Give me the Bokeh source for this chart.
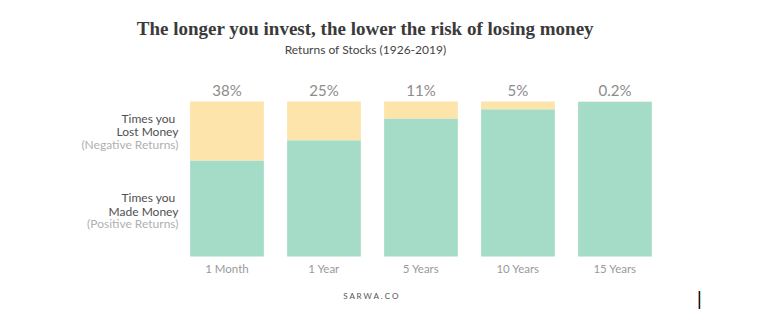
from bokeh.plotting import figure
from bokeh.models import ColumnDataSource, Label, Range1d
from bokeh.core.properties import value
from bokeh.embed import file_html
from bokeh.resources import INLINE

categories = ["1 Month", "1 Year", "5 Years", "10 Years", "15 Years"]
positive = [62, 75, 89, 95, 99.8]
negative = [38, 25, 11, 5, 0.2]
pct_labels = ["38%", "25%", "11%", "5%", "0.2%"]

GREEN = "#A4DCC8"
YELLOW = "#FCE4AA"

xs = list(range(len(categories)))
pos_frac = [v / 100 for v in positive]
tot_frac = [(a + b) / 100 for a, b in zip(positive, negative)]

src = ColumnDataSource(dict(x=xs, cat=categories, pos=pos_frac, tot=tot_frac,
                            lab=pct_labels))

p = figure(width=775, height=332,
           x_range=Range1d(-2.335, 5.655), y_range=Range1d(-0.4903, 1.6516),
           output_backend="svg", toolbar_location=None,
           x_axis_location=None, y_axis_location=None,
           min_border=0)
p.outline_line_color = None
p.grid.visible = False
p.background_fill_color = "white"
p.border_fill_color = "white"

p.vbar(x="x", bottom=0, top="pos", width=0.76, source=src,
       fill_color=GREEN, line_color=None)
p.vbar(x="x", bottom="pos", top="tot", width=0.76, source=src,
       fill_color=YELLOW, line_color=None)

# percentage labels above the bars
p.text(x="x", y="tot", text="lab", source=src, text_align="center",
       text_baseline="bottom", y_offset=-2, text_font=value("Lato"),
       text_font_size="15px", text_color="#8c8c8c")

# category labels below the bars
p.text(x="x", y=0, text="cat", source=src, text_align="center",
       text_baseline="middle", y_offset=12, text_font=value("Lato"),
       text_font_size="11.5px", text_color="#9a9a9a")

# Titles
p.add_layout(Label(x=1.428, y=1.468, text="The longer you invest, the lower the risk of losing money",
                   text_align="center", text_baseline="alphabetic",
                   text_font="Liberation Serif", text_font_style="bold",
                   text_font_size="19px", text_color="#3a3a3a"))
p.add_layout(Label(x=1.428, y=1.333, text="Returns of Stocks (1926-2019)",
                   text_align="center", text_baseline="alphabetic",
                   text_font="Lato", text_font_size="12px", text_color="#444444"))

# Left side labels
left_lines = [
    ("Times you", 0.890, "#505050", 3),
    ("Lost Money", 0.806, "#505050", 0),
    ("(Negative Returns)", 0.723, "#b0b0b0", 0),
    ("Times you", 0.380, "#505050", 3),
    ("Made Money", 0.290, "#505050", 0),
    ("(Positive Returns)", 0.213, "#b0b0b0", 0),
]
for txt, yy, col, off in left_lines:
    p.add_layout(Label(x=-0.5, y=yy, text=txt, text_align="right",
                       text_baseline="middle", x_offset=-off,
                       text_font="Lato", text_font_size="12px", text_color=col))

# Footer
p.add_layout(Label(x=1.49, y=-0.252, text="S A R W A . C O", text_align="center",
                   text_baseline="middle", text_font="Lato",
                   text_font_size="8px", text_color="#555555"))

# cursor mark
p.add_layout(Label(x=4.871, y=-0.277, text="|", text_align="center",
                   text_baseline="middle", text_font="DejaVu Sans",
                   text_font_size="17px", text_color="#000000"))

open("out.html", "w").write(file_html(p, INLINE))
